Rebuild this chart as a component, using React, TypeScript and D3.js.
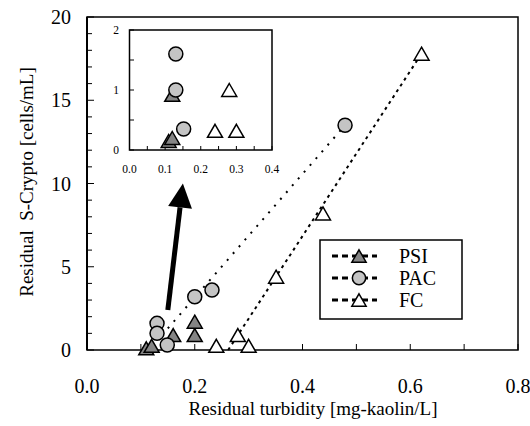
import React from "react";
import * as d3 from "d3";

// main plot data: residual turbidity [mg-kaolin/L] vs residual S-Crypto [cells/mL]
const psiX = [0.11, 0.12, 0.16, 0.2, 0.2];
const psiY = [0.1, 0.25, 0.9, 0.9, 1.7];
const pacX = [0.13, 0.13, 0.149, 0.2, 0.232, 0.479];
const pacY = [1.6, 1.0, 0.3, 3.2, 3.6, 13.5];
const fcX = [0.24, 0.3, 0.28, 0.351, 0.438, 0.621];
const fcY = [0.25, 0.25, 0.9, 4.4, 8.2, 17.8];

// inset (zoomed) data
const insPsiX = [0.11, 0.12, 0.12];
const insPsiY = [0.15, 0.2, 0.92];
const insPacX = [0.13, 0.13, 0.152];
const insPacY = [1.6, 1.0, 0.35];
const insFcX = [0.24, 0.3, 0.28];
const insFcY = [0.32, 0.32, 1.0];

// fit lines
const pacLine = [[0.15, 1.3], [0.479, 13.5]];
const fcLine = [[0.262, 0], [0.621, 17.8]];
const arrowPts = [[0.15, 2.4], [0.178, 10.0]];

const xTicks = [0, 0.2, 0.4, 0.6, 0.8];
const yTicks = [0, 5, 10, 15, 20];
const insXTicks = [0, 0.1, 0.2, 0.3, 0.4];
const insYTicks = [0, 1, 2];
const legendNames = ["PSI", "PAC", "FC"];

const FONT = "'Liberation Serif', 'Times New Roman', serif";
const fills: Record<string, string> = { PSI: "#858585", PAC: "#c4c4c4", FC: "#ffffff" };

const Marker = ({ type, x, y, s = 1 }: { type: string; x: number; y: number; s?: number }) => {
  if (type === "PAC") {
    return <circle cx={x} cy={y} r={7 * s} fill={fills.PAC} stroke="#000" strokeWidth={1.5} />;
  }
  const w = 7.5 * s;
  const h = 13 * s;
  const d = `M${x},${y - h / 2}L${x + w},${y + h / 2}L${x - w},${y + h / 2}Z`;
  return <path d={d} fill={fills[type]} stroke="#000" strokeWidth={1.5} strokeLinejoin="miter" />;
};

const App = () => {
  const x = d3.scaleLinear().domain([0, 0.8]).range([87, 518]);
  const y = d3.scaleLinear().domain([0, 20]).range([350, 17]);
  const ix = d3.scaleLinear().domain([0, 0.4]).range([129.5, 272]);
  const iy = d3.scaleLinear().domain([0, 2]).range([150, 30]);

  const xMinor = d3.range(0, 0.8001, 0.1);
  const yMinor = d3.range(0, 20.001, 1);
  const ixMinor = d3.range(0, 0.4001, 0.05);
  const iyMinor = d3.range(0, 2.001, 0.5);

  const ln = d3.line<number[]>().x((d) => x(d[0])).y((d) => y(d[1]));

  // arrow geometry
  const [a0, a1] = arrowPts.map((p) => [x(p[0]), y(p[1])]);
  const ang = Math.atan2(a1[1] - a0[1], a1[0] - a0[0]);
  const headLen = 24;
  const headW = 12;
  const bx = a1[0] - headLen * Math.cos(ang);
  const by = a1[1] - headLen * Math.sin(ang);
  const px = -Math.sin(ang) * headW;
  const py = Math.cos(ang) * headW;

  return (
    <svg width={530} height={426} style={{ position: "absolute", left: 0, top: 0, background: "#fff" }} fontFamily={FONT}>
      {/* main frame */}
      <rect x={87} y={17} width={431} height={333} fill="none" stroke="#000" strokeWidth={1.5} />
      <line x1={87} y1={17} x2={87} y2={350} stroke="#000" strokeWidth={2} />
      {yMinor.map((v, i) => (
        <line key={"ym" + i} x1={87} x2={87 + (i % 5 === 0 ? 7 : 5)} y1={y(v)} y2={y(v)} stroke="#000" strokeWidth={1} />
      ))}
      {xMinor.map((v, i) => (
        <line key={"xm" + i} x1={x(v)} x2={x(v)} y1={350} y2={344} stroke="#000" strokeWidth={1} />
      ))}
      {yTicks.map((v) => (
        <text key={"yt" + v} x={71} y={y(v) + 7} textAnchor="end" fontSize={20}>{v}</text>
      ))}
      {xTicks.map((v) => (
        <text key={"xt" + v} x={x(v)} y={393} textAnchor="middle" fontSize={20}>{v.toFixed(1)}</text>
      ))}
      <text x={313} y={415} textAnchor="middle" fontSize={19}>Residual turbidity [mg-kaolin/L]</text>
      <text transform="translate(33,182) rotate(-90)" textAnchor="middle" fontSize={19} style={{ whiteSpace: "pre" }}>
        Residual  S-Crypto [cells/mL]
      </text>

      {/* fit lines */}
      <path d={ln(pacLine) ?? ""} fill="none" stroke="#000" strokeWidth={2} strokeDasharray="2,7" />
      <path d={ln(fcLine) ?? ""} fill="none" stroke="#000" strokeWidth={2} strokeDasharray="3,4" />

      {/* arrow */}
      <line x1={a0[0]} y1={a0[1]} x2={bx} y2={by} stroke="#000" strokeWidth={5} />
      <path d={`M${a1[0]},${a1[1]}L${bx + px},${by + py}L${bx - px},${by - py}Z`} fill="#000" />

      {/* main points */}
      {psiX.map((v, i) => <Marker key={"p" + i} type="PSI" x={x(v)} y={y(psiY[i])} />)}
      {pacX.map((v, i) => <Marker key={"c" + i} type="PAC" x={x(v)} y={y(pacY[i])} />)}
      {fcX.map((v, i) => <Marker key={"f" + i} type="FC" x={x(v)} y={y(fcY[i])} />)}

      {/* inset */}
      <rect x={129.5} y={30} width={142.5} height={120} fill="#fff" stroke="#000" strokeWidth={1.5} />
      {iyMinor.map((v, i) => (
        <line key={"iym" + i} x1={129.5} x2={134} y1={iy(v)} y2={iy(v)} stroke="#000" strokeWidth={1} />
      ))}
      {ixMinor.map((v, i) => (
        <line key={"ixm" + i} x1={ix(v)} x2={ix(v)} y1={150} y2={146} stroke="#000" strokeWidth={1} />
      ))}
      {insYTicks.map((v) => (
        <text key={"iyt" + v} x={119} y={iy(v) + 4} textAnchor="end" fontSize={11.5}>{v}</text>
      ))}
      {insXTicks.map((v) => (
        <text key={"ixt" + v} x={ix(v)} y={173} textAnchor="middle" fontSize={11.5}>{v.toFixed(1)}</text>
      ))}
      {insPsiX.map((v, i) => <Marker key={"ip" + i} type="PSI" x={ix(v)} y={iy(insPsiY[i])} />)}
      {insPacX.map((v, i) => <Marker key={"ic" + i} type="PAC" x={ix(v)} y={iy(insPacY[i])} />)}
      {insFcX.map((v, i) => <Marker key={"if" + i} type="FC" x={ix(v)} y={iy(insFcY[i])} />)}

      {/* legend */}
      <rect x={320} y={240} width={142} height={79} fill="#fff" stroke="#000" strokeWidth={1.5} />
      {legendNames.map((n, i) => {
        const ly = 256 + i * 22;
        return (
          <g key={n}>
            <line x1={332} x2={377} y1={ly} y2={ly} stroke="#000" strokeWidth={3} strokeDasharray="6,4" />
            <Marker type={n} x={359} y={ly} s={0.95} />
            <text x={399} y={ly + 7} fontSize={20}>{n}</text>
          </g>
        );
      })}
    </svg>
  );
};

export default App;
